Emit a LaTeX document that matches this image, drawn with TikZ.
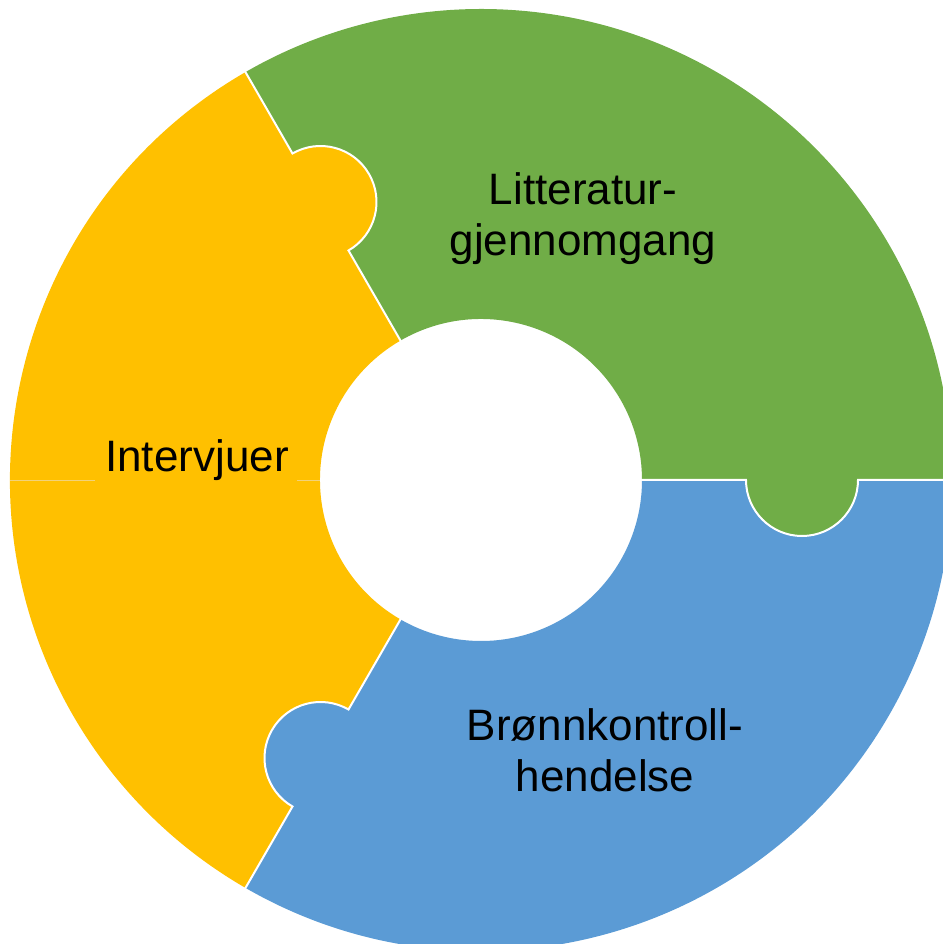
\documentclass[tikz,border=0pt]{standalone}
\usepackage{fontspec}
\setmainfont{Liberation Sans}
\definecolor{pgreen}{HTML}{70AD47}
\definecolor{pyellow}{HTML}{FFC000}
\definecolor{pblue}{HTML}{5B9BD5}
\definecolor{seam}{HTML}{F2D27A}
\begin{document}
\begin{tikzpicture}[x=1pt,y=1pt,
  label/.style={font=\fontsize{44}{51}\selectfont, text=black, align=center, inner sep=0pt},
  gap/.style={draw=white, line width=2pt}]
\useasboundingbox (-481,-464) rectangle (461,480);
% pieces: base angle, colour
\foreach \a/\c in {0/pgreen,120/pyellow,240/pblue}{
  \fill[\c] (\a:161) -- (\a:265)
    arc[start angle=\a+180, end angle=\a+360, radius=56] -- (\a:471)
    arc[start angle=\a, end angle=\a+120, radius=471] -- (\a+120:377)
    arc[start angle=\a+120, end angle=\a-60, radius=56] -- (\a+120:161)
    arc[start angle=\a+120, end angle=\a, radius=161] -- cycle;
}
% faint seam in the left piece
\draw[seam, line width=0.8pt] (-471,0) -- (-386,0);
\draw[seam, line width=0.8pt] (-184,0) -- (-161,0);
% white gaps between pieces
\foreach \a in {0,120,240}{
  \draw[gap] (\a:160) -- (\a:265)
    arc[start angle=\a+180, end angle=\a+360, radius=56] -- (\a:472);
}
\node[label, anchor=base] (lit) at (102,224) {Litteratur-\\gjennomgang};
\node[label, anchor=base] (int) at (-284,8) {Intervjuer};
\node[label, anchor=base] (bro) at (124,-311) {Brønnkontroll-\\hendelse};
\end{tikzpicture}
\end{document}
